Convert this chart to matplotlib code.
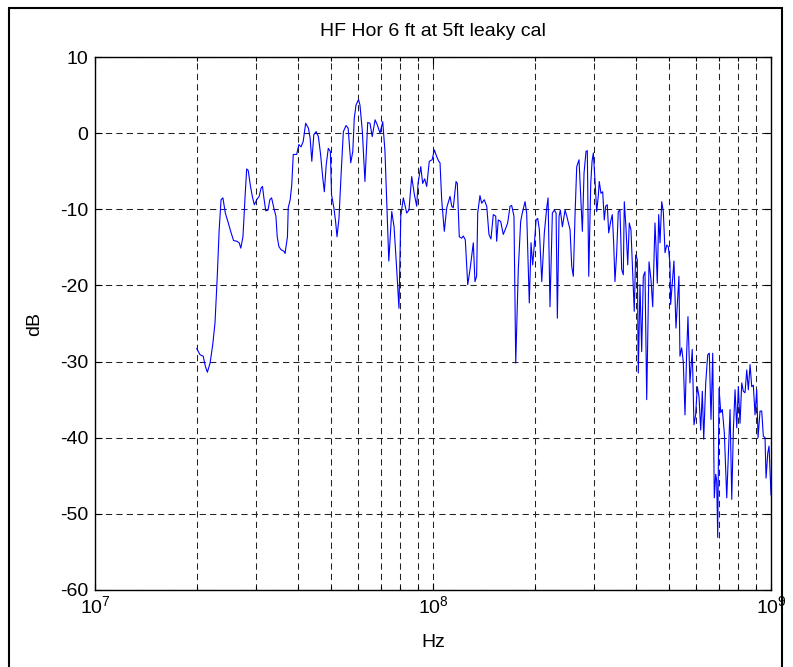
import matplotlib
matplotlib.use('Agg')
import matplotlib.pyplot as plt
from matplotlib.patches import Rectangle
from matplotlib.ticker import LogLocator, NullFormatter

plt.rcParams['font.family'] = ['Liberation Sans', 'DejaVu Sans']
plt.rcParams['mathtext.default'] = 'regular'
plt.rcParams['axes.unicode_minus'] = False

# frequency in MHz, level in dB
freq_mhz = [
    20.0, 20.45, 20.9, 21.2, 21.5, 21.9, 22.3, 22.65, 23.0, 23.3, 23.6, 23.9,
    24.3, 24.8, 25.2, 25.7, 26.3, 26.7, 27.0, 27.4, 27.8, 28.1, 28.4, 28.8,
    29.2, 29.6, 30.1, 30.6, 31.0, 31.3, 31.6, 32.0, 32.5, 32.9, 33.3, 33.8,
    34.3, 34.6, 35.0, 35.5, 36.2, 36.5, 37.1, 37.3, 37.8, 38.2, 38.6, 39.5,
    40.1, 40.7, 41.3, 42.0, 42.8, 43.3, 43.8, 44.4, 45.1, 45.8, 46.5, 47.2,
    47.7, 48.3, 49.0, 49.7, 50.1, 50.9, 51.5, 52.0, 52.7, 53.4, 54.3, 55.3,
    56.1, 57.1, 57.9, 58.5, 59.2, 60.2, 60.8, 61.8, 62.9, 64.1, 65.1, 66.1,
    67.4, 68.4, 69.7, 71.0, 72.1, 74.0, 75.5, 76.7, 78.1, 79.3, 80.3, 81.7,
    83.6, 84.9, 86.5, 88.1, 89.5, 90.3, 92.0, 93.2, 94.5, 95.8, 97.5, 99.4,
    100.9, 102.6, 104.0, 104.9, 106.1, 108.0, 109.8, 112.3, 113.6, 114.8,
    117.0, 118.0, 119.6, 121.6, 122.9, 124.6, 126.7, 128.7, 131.6, 133.1,
    134.6, 135.6, 137.7, 139.3, 141.8, 144.2, 146.4, 148.4, 150.8, 153.3,
    154.3, 156.0, 158.6, 161.4, 164.1, 166.3, 169.0, 170.9, 173.6, 175.7,
    178.8, 181.7, 183.7, 187.2, 189.3, 192.7, 195.0, 197.2, 199.4, 201.8,
    204.1, 206.4, 209.8, 213.5, 217.0, 219.0, 221.9, 225.5, 228.6, 231.3,
    233.3, 236.0, 238.1, 241.4, 245.9, 248.8, 251.5, 254.4, 257.3, 260.1,
    263.1, 266.2, 270.4, 273.6, 276.6, 279.8, 283.6, 286.1, 288.9, 292.9,
    295.5, 298.1, 301.4, 305.0, 308.3, 310.4, 314.0, 317.7, 321.2, 324.2,
    327.8, 331.0, 335.5, 339.2, 342.4, 345.4, 349.5, 353.3, 357.4, 361.6,
    365.6, 368.1, 372.4, 376.8, 380.8, 385.2, 391.2, 393.9, 397.7, 402.2,
    404.9, 409.6, 414.4, 419.0, 423.8, 428.8, 435.6, 441.6, 446.7, 453.7,
    456.8, 460.9, 465.3, 469.5, 475.0, 480.2, 485.8, 491.4, 496.8, 502.4,
    504.8, 516.3, 523.4, 534.1, 537.8, 544.1, 550.1, 556.6, 562.9, 568.0,
    575.7, 584.8, 591.7, 598.5, 605.3, 612.4, 619.5, 626.3, 632.3, 641.0,
    649.8, 656.9, 664.5, 672.3, 679.6, 686.2, 690.9, 695.6, 701.9, 710.1,
    717.8, 727.7, 739.7, 747.8, 756.6, 765.4, 773.8, 782.8, 791.9, 800.5,
    809.8, 819.3, 828.3, 837.9, 847.7, 857.0, 867.0, 877.0, 886.6, 897.0,
    907.4, 915.5, 928.0, 938.8, 949.1, 960.1, 966.8, 978.2, 986.7, 1000.0,
]
level_db = [
    -28.3, -29.1, -29.3, -30.6, -31.4, -30.2, -27.8, -24.9, -18.8, -12.7, -8.75, -8.5,
    -10.5, -11.8, -12.9, -14.1, -14.2, -14.4, -15.1, -13.6, -8.3, -4.7, -4.9, -6.8,
    -8.3, -9.4, -8.75, -8.3, -7.2, -7.0, -8.5, -10.2, -10.1, -8.75, -8.5, -9.8,
    -10.9, -13.6, -14.9, -15.3, -15.5, -15.8, -13.6, -9.8, -8.75, -6.8, -2.8, -2.8,
    -1.5, -1.8, -1.1, 1.3, 0.65, -0.65, -3.7, -0.2, 0.2, -0.45, -2.8, -5.9,
    -7.7, -4.2, -2.0, -2.4, -8.1, -9.8, -11.6, -13.6, -11.2, -5.9, 0.2, 1.0,
    0.65, -3.9, -2.4, 2.0, 3.7, 4.4, 3.7, 0.2, -6.35, 1.4, 1.3, -0.45,
    1.75, 1.1, 0.0, 1.5, -2.4, -16.8, -10.3, -12.3, -17.9, -23.0, -10.9, -8.5,
    -10.5, -10.1, -5.7, -8.1, -9.6, -6.6, -4.4, -6.6, -6.0, -7.0, -3.7, -3.5,
    -2.2, -3.1, -3.7, -3.9, -8.75, -12.9, -9.8, -8.3, -9.6, -9.8,
    -6.35, -6.6, -13.6, -13.8, -13.5, -14.0, -19.9, -17.9, -14.4, -19.5,
    -18.8, -10.5, -8.2, -9.2, -8.75, -9.6, -13.3, -13.9, -10.7, -10.9,
    -14.2, -11.4, -11.6, -13.3, -12.5, -11.8, -9.6, -9.5, -10.9, -30.2,
    -17.9, -11.6, -10.5, -9.0, -10.5, -22.3, -14.4, -17.3, -14.7, -11.4,
    -11.2, -12.7, -19.5, -13.1, -9.8, -8.5, -22.8, -10.5, -10.1, -10.5,
    -24.3, -10.9, -10.1, -12.3, -10.1, -10.9, -11.8, -12.7, -17.5, -18.8,
    -10.9, -4.4, -3.5, -8.3, -12.9, -5.25, -2.4, -2.3, -18.8, -6.6,
    -3.7, -2.6, -6.1, -10.3, -8.3, -6.35, -7.9, -7.7, -11.4, -9.6,
    -9.4, -13.1, -11.6, -10.7, -14.4, -19.5, -15.7, -10.3, -10.1, -17.9,
    -18.6, -9.0, -12.5, -17.3, -11.8, -12.7, -19.9, -23.4, -16.0, -16.6,
    -31.5, -19.9, -28.7, -18.8, -18.2, -35.0, -16.9, -19.3, -22.8, -11.8,
    -14.9, -19.7, -10.7, -14.4, -9.0, -10.3, -15.7, -14.7, -14.9, -17.1,
    -22.5, -16.8, -25.6, -18.8, -29.3, -28.2, -30.0, -37.0, -28.9, -24.1,
    -32.8, -28.4, -38.3, -37.0, -33.3, -34.6, -39.0, -33.9, -40.2, -32.8,
    -29.1, -28.9, -37.6, -28.9, -47.9, -44.8, -45.7, -53.1, -33.5, -36.7,
    -36.3, -39.4, -47.9, -42.4, -36.3, -48.1, -39.0, -33.7, -38.7, -33.3,
    -38.1, -32.8, -33.9, -34.1, -31.1, -33.7, -30.4, -33.3, -33.1, -37.0,
    -33.7, -40.0, -36.5, -36.5, -39.8, -40.0, -45.3, -42.0, -41.1, -47.5,
]

W, H = 793, 667
fig = plt.figure(figsize=(W / 100, H / 100), dpi=100)
ax = fig.add_axes([95 / W, 1 - 590 / H, 676 / W, 533 / H])

freq_hz = [f * 1e6 for f in freq_mhz]
ax.semilogx(freq_hz, level_db, color='#0000ff', lw=0.8)

ax.set_xlim(1e7, 1e9)
ax.set_ylim(-60, 10)
ax.set_yticks(range(-60, 11, 10))
ax.xaxis.set_minor_locator(LogLocator(base=10, subs=range(2, 10)))
ax.xaxis.set_minor_formatter(NullFormatter())

grid_kw = dict(color='#222222', lw=0.75, linestyle=(0, (6, 4)))
ax.grid(True, which='both', axis='x', **grid_kw)
ax.grid(True, which='major', axis='y', **grid_kw)

fs = 14
ax.tick_params(which='both', direction='in', top=True, right=True,
               labelsize=fs, width=0.8, colors='k')
ax.tick_params(which='major', length=5)
ax.tick_params(which='minor', length=3)
ax.tick_params(axis='x', which='major', pad=4)
ax.tick_params(axis='y', which='major', pad=5)
for sp in ax.spines.values():
    sp.set_linewidth(1.0)

ax.set_title('HF Hor 6 ft at 5ft leaky cal', fontsize=fs, pad=15)
ax.set_xlabel('Hz', fontsize=fs, labelpad=12)
ax.set_ylabel('dB', fontsize=fs, labelpad=12)

# frame round the whole figure
fig.patches.append(Rectangle((9 / W, -0.02), 773 / W, 1.02 - 8 / H,
                             transform=fig.transFigure, fill=False,
                             ec='k', lw=1.5, clip_on=False))

fig.savefig('out.png', dpi=100)
